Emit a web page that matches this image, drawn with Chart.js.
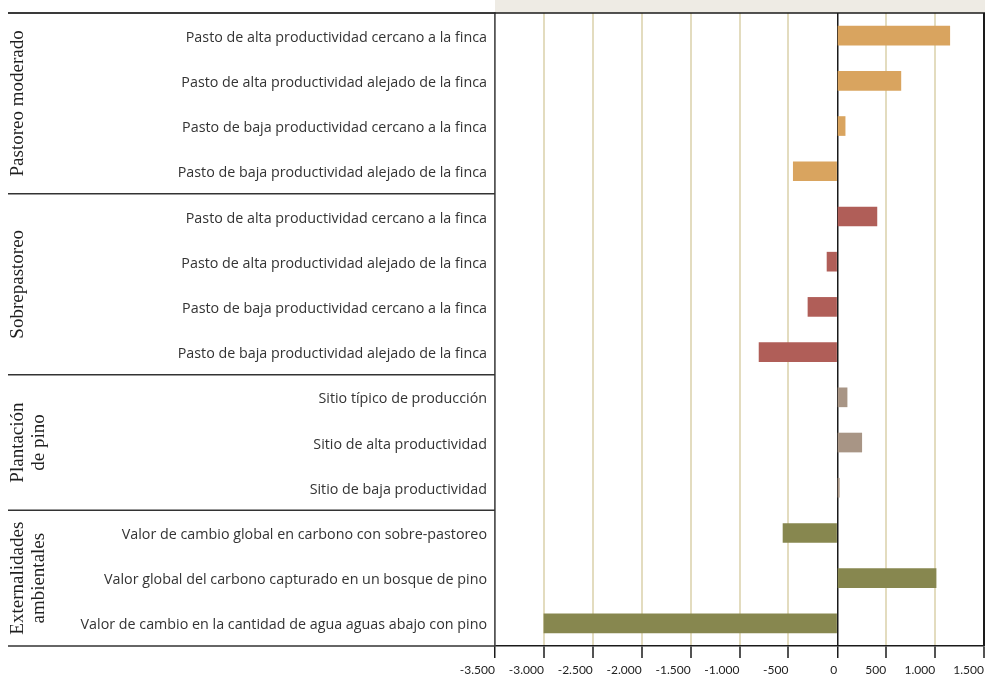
<!DOCTYPE html>
<html>
<head>
<meta charset="utf-8">
<script src="https://cdn.jsdelivr.net/npm/chart.js@4/dist/chart.umd.min.js"></script>
<style>
  html, body { margin: 0; padding: 0; background: #ffffff; }
  #wrap { width: 985px; height: 676px; position: relative; }
</style>
</head>
<body>
<div id="wrap"><canvas id="c" width="985" height="676"></canvas></div>
<script>
// ---- Data ----
const categories = [
  "Pasto de alta productividad cercano a la finca",
  "Pasto de alta productividad alejado de la finca",
  "Pasto de baja productividad cercano a la finca",
  "Pasto de baja productividad alejado de la finca",
  "Pasto de alta productividad cercano a la finca",
  "Pasto de alta productividad alejado de la finca",
  "Pasto de baja productividad cercano a la finca",
  "Pasto de baja productividad alejado de la finca",
  "Sitio típico de producción",
  "Sitio de alta productividad",
  "Sitio de baja productividad",
  "Valor de cambio global en carbono con sobre-pastoreo",
  "Valor global del carbono capturado en un bosque de pino",
  "Valor de cambio en la cantidad de agua aguas abajo con pino"
];
const values = [1150, 650, 80, -450, 405, -105, -300, -800, 100, 250, 20, -555, 1010, -3000];
const groupNames = [["Pastoreo moderado"], ["Sobrepastoreo"], ["Plantación", "de pino"], ["Externalidades", "ambientales"]];
const groupSizes = [4, 4, 3, 3];
const groupColors = ["#d9a45f", "#b05e58", "#a89585", "#87874f"];
const tickValues = [-3500, -3000, -2500, -2000, -1500, -1000, -500, 0, 500, 1000, 1500];

// colour per bar from its group
const barColors = [];
groupSizes.forEach((n, g) => { for (let i = 0; i < n; i++) barColors.push(groupColors[g]); });

function fmt(v) {
  const s = Math.abs(v).toString().replace(/\B(?=(\d{3})+(?!\d))/g, ".");
  return (v < 0 ? "-" : "") + s;
}

const decor = {
  id: "decor",
  beforeDraw(chart) {
    const { ctx, chartArea: a } = chart;
    ctx.save();
    ctx.fillStyle = "#eeebe4";
    ctx.fillRect(a.left, 0, chart.width - a.left, a.top);
    ctx.restore();
  },
  afterDraw(chart) {
    const { ctx, chartArea: a } = chart;
    const y = chart.scales.y;
    ctx.save();
    // top and right border
    ctx.strokeStyle = "#1a1a1a";
    ctx.lineWidth = 1.5;
    ctx.beginPath();
    ctx.moveTo(8, a.top); ctx.lineTo(chart.width, a.top);
    ctx.stroke();
    ctx.lineWidth = 2;
    ctx.beginPath();
    ctx.moveTo(a.right, a.top); ctx.lineTo(a.right, a.bottom);
    ctx.stroke();
    // group separators and labels
    let start = 0;
    const bounds = [a.top];
    groupSizes.forEach((n, g) => {
      const end = start + n;
      const yb = end >= categories.length ? a.bottom
        : (y.getPixelForValue(end - 1) + y.getPixelForValue(end)) / 2;
      bounds.push(yb);
      start = end;
    });
    ctx.strokeStyle = "#333333";
    ctx.lineWidth = 1.5;
    bounds.forEach(b => {
      ctx.beginPath(); ctx.moveTo(8, b); ctx.lineTo(a.left, b); ctx.stroke();
    });
    ctx.fillStyle = "#1f1f1f";
    ctx.font = "19px 'Liberation Serif', serif";
    ctx.textAlign = "center";
    ctx.textBaseline = "middle";
    groupNames.forEach((lines, g) => {
      const cy = (bounds[g] + bounds[g + 1]) / 2;
      const lh = 21;
      lines.forEach((txt, i) => {
        const cx = 18 + i * lh;
        ctx.save();
        ctx.translate(cx, cy);
        ctx.rotate(-Math.PI / 2);
        ctx.fillText(txt, 0, 0);
        ctx.restore();
      });
    });
    ctx.restore();
  }
};

new Chart(document.getElementById("c"), {
  type: "bar",
  data: {
    labels: categories,
    datasets: [{
      data: values,
      backgroundColor: barColors,
      borderWidth: 0,
      barThickness: 19
    }]
  },
  options: {
    indexAxis: "y",
    responsive: false,
    animation: false,
    layout: { padding: { top: 13, right: 1, left: 0, bottom: 0 } },
    plugins: { legend: { display: false }, tooltip: { enabled: false } },
    scales: {
      x: {
        min: -3500, max: 1500,
        afterBuildTicks(scale) { scale.ticks = tickValues.map(v => ({ value: v })); },
        afterFit(scale) { scale.height = 30; scale.paddingLeft = 0; scale.paddingRight = 0; },
        grid: {
          color: ctx => {
            const v = ctx.tick ? ctx.tick.value : null;
            if (v === 0) return "#1a1a1a";
            if (v === -3500) return "#444444";
            if (v === 1500) return "#1a1a1a";
            return "#e3dcbf";
          },
          lineWidth: ctx => (ctx.tick && (ctx.tick.value === 0 || ctx.tick.value === -3500)) ? 1.5 : 2,
          tickColor: "#1a1a1a",
          tickLength: 12,
          tickWidth: 1.5,
          drawTicks: true
        },
        border: { display: true, color: "#1a1a1a", width: 1.5 },
        ticks: {
          color: "#222222",
          font: { family: "Lato", size: 12 },
          padding: 5,
          align: "end",
          maxRotation: 0,
          autoSkip: false,
          callback: v => fmt(v)
        }
      },
      y: {
        afterFit(scale) { scale.width = 495; scale.paddingTop = 0; scale.paddingBottom = 0; },
        grid: { display: false, drawTicks: false },
        border: { display: true, color: "#555555", width: 1.5 },
        ticks: {
          color: "#333333",
          font: { family: "Open Sans", size: 14.3 },
          padding: 8,
          labelOffset: 2,
          autoSkip: false
        }
      }
    }
  },
  plugins: [decor]
});
</script>
</body>
</html>
